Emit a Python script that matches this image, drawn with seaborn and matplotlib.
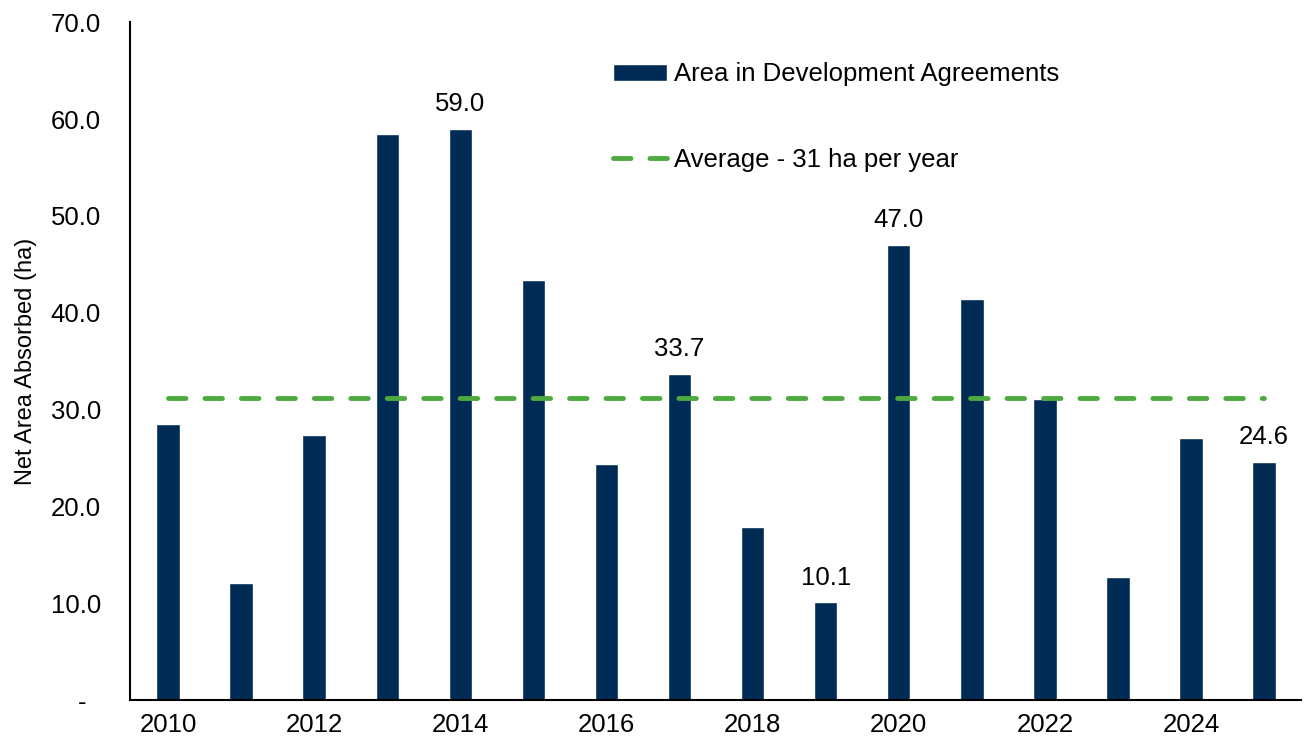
import numpy as np
import matplotlib
matplotlib.use("Agg")
import matplotlib.pyplot as plt
import seaborn as sns

# data
years = [str(y) for y in range(2010, 2026)]
area = [28.5, 12.1, 27.4, 58.5, 59.0, 43.4, 24.4, 33.7, 17.9, 10.1, 47.0, 41.4, 31.1, 12.7, 27.1, 24.6]
average = 31.2
labelled_years = ["2014", "2017", "2019", "2020", "2025"]
yticks = [0, 10, 20, 30, 40, 50, 60, 70]
ytick_labels = ["-  ", "10.0", "20.0", "30.0", "40.0", "50.0", "60.0", "70.0"]

sns.set_style("white")
plt.rcParams["font.family"] = ["Liberation Sans", "DejaVu Sans"]
plt.rcParams["text.color"] = "black"
plt.rcParams["xtick.color"] = "black"
plt.rcParams["ytick.color"] = "black"
plt.rcParams["axes.labelcolor"] = "black"

fig = plt.figure(figsize=(13.08, 7.45), dpi=100)
ax = fig.add_axes([0.0994, 0.0604, 0.895, 0.9096])

navy = "#002b55"
green = "#4daa3f"

sns.barplot(x=years, y=area, color=navy, width=0.32, saturation=1,
            label="Area in Development Agreements", ax=ax)
sns.lineplot(x=np.arange(len(years)), y=[average] * len(years), color=green,
             linewidth=3.5, ax=ax, legend=False)
avg_line = ax.lines[-1]
avg_line.set_dashes([3.6, 3.9])
avg_line.set_dash_capstyle("round")
avg_line.set_label("Average - 31 ha per year")

for i, (yr, v) in enumerate(zip(years, area)):
    if yr in labelled_years:
        ax.text(i, v + 1.3, f"{v:.1f}", ha="center", va="bottom", fontsize=18.5)

ax.set_ylim(0, 70)
ax.set_xlim(-0.52, len(years) - 0.5)
ax.set_yticks(yticks)
ax.set_yticklabels(ytick_labels, fontsize=18.5)
ax.set_xticks(range(len(years)))
ax.set_xticklabels([y if int(y) % 2 == 0 else "" for y in years], fontsize=18.5)
ax.tick_params(axis="y", length=0, pad=21)
ax.tick_params(axis="x", length=0, pad=9)
ax.set_ylabel("Net Area Absorbed (ha)", fontsize=17, labelpad=10)
ax.set_xlabel("")

for s in ["top", "right"]:
    ax.spines[s].set_visible(False)
for s in ["left", "bottom"]:
    ax.spines[s].set_color("black")
    ax.spines[s].set_linewidth(1.5)

handles, labels = ax.get_legend_handles_labels()
order = [labels.index("Area in Development Agreements"), labels.index("Average - 31 ha per year")]
ax.legend([handles[i] for i in order], [labels[i] for i in order],
          loc="upper left", bbox_to_anchor=(0.393, 0.975),
          frameon=False, fontsize=18.5, handlelength=2.1, handleheight=0.6,
          labelspacing=2.4, handletextpad=0.27)

fig.savefig("out.png", dpi=100)
